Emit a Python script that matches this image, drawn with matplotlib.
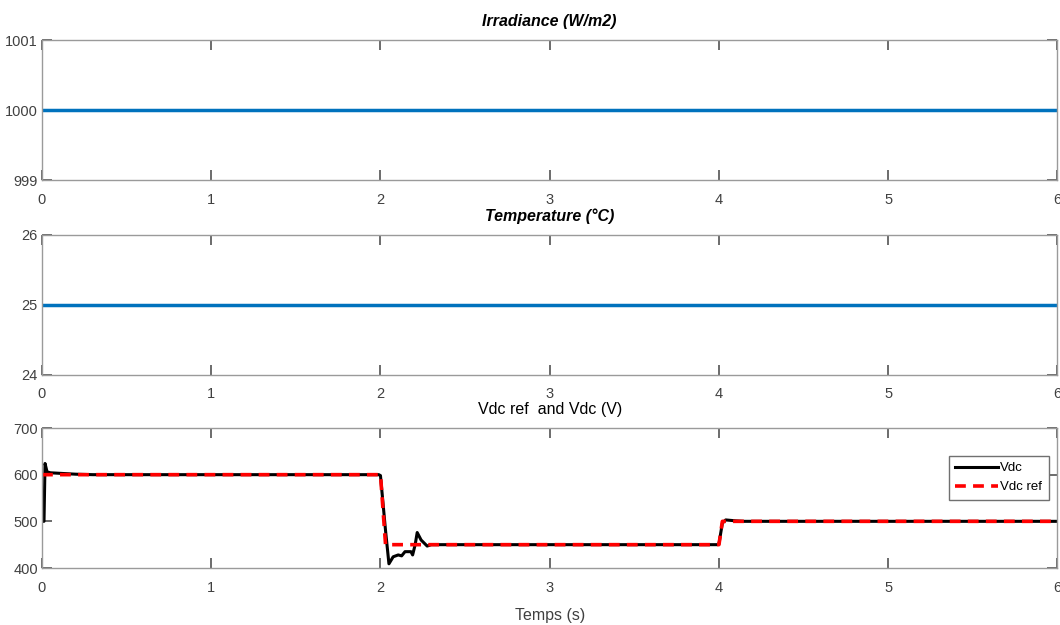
import numpy as np
import matplotlib.pyplot as plt

plt.rcParams['font.family'] = ['Liberation Sans', 'DejaVu Sans']

# time axis and signals
t_const = [0, 6]
irradiance = [1000, 1000]
temperature = [25, 25]

t_vdc = [0.0, 0.012, 0.018, 0.03, 0.05, 0.1, 0.2, 0.3, 1.99, 2.0, 2.03, 2.05,
         2.075, 2.105, 2.125, 2.145, 2.18, 2.19, 2.205, 2.217, 2.24, 2.276, 2.3,
         3.99, 4.0, 4.02, 4.04, 4.1, 4.15, 6.0]
vdc = [500, 500, 624, 606, 604, 603, 601, 600, 600, 598, 480, 409,
       424, 428, 426, 435, 435, 428, 450, 476, 460, 447, 450,
       450, 452, 496, 503, 501, 500, 500]

t_ref = [0.0, 2.0, 2.03, 4.0, 4.02, 6.0]
vdc_ref = [600, 600, 450, 450, 500, 500]

BLUE = '#0072BD'
FRAME = '#9a9a9a'
TICK_TXT = '#404040'


def style(ax, yticks):
    ax.set_xlim(0, 6)
    ax.set_xticks(range(7))
    ax.set_ylim(yticks[0], yticks[-1])
    ax.set_yticks(yticks)
    for s in ax.spines.values():
        s.set_color(FRAME)
        s.set_linewidth(1.0)
    ax.tick_params(direction='in', length=7, width=1.3, color='#606060',
                   top=True, right=True, labelsize=10.5, labelcolor=TICK_TXT)
    ax.tick_params(axis='x', pad=9)
    ax.tick_params(axis='y', pad=3)


fig = plt.figure(figsize=(10.6, 6.25), dpi=100)
left, width, h = 0.0396, 0.958, 0.224

ax1 = fig.add_axes([left, 0.712, width, h])
ax1.plot(t_const, irradiance, color=BLUE, lw=2.5)
style(ax1, [999, 1000, 1001])
ax1.set_title('Irradiance (W/m2)', fontsize=11.5, fontweight='bold', style='italic', pad=10)

ax2 = fig.add_axes([left, 0.40, width, h])
ax2.plot(t_const, temperature, color=BLUE, lw=2.5)
style(ax2, [24, 25, 26])
ax2.set_title('Temperature (°C)', fontsize=11.5, fontweight='bold', style='italic', pad=10)

ax3 = fig.add_axes([left, 0.0912, width, h])
ax3.plot(t_vdc, vdc, color='black', lw=2.2, label='Vdc')
ax3.plot(t_ref, vdc_ref, color='red', lw=2.6, ls=(0, (3, 2)), label='Vdc ref')
style(ax3, [400, 500, 600, 700])
ax3.set_title('Vdc ref  and Vdc (V)', fontsize=11.5, pad=10)
ax3.set_xlabel('Temps (s)', fontsize=11.5, color=TICK_TXT, labelpad=10)
leg = ax3.legend(loc='upper right', bbox_to_anchor=(0.998, 0.85), fontsize=9.5,
                 fancybox=False, framealpha=1, edgecolor='#707070',
                 handlelength=3.2, handletextpad=0.2, borderpad=0.5, labelspacing=0.5)

fig.savefig('out.png', dpi=100)
